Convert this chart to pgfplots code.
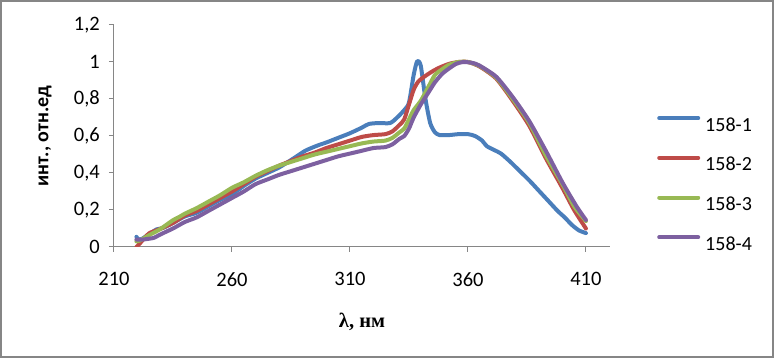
\documentclass[border=0pt]{standalone}
\usepackage{pgfplots}
\pgfplotsset{compat=1.18}
\usepackage{fontspec}
\setmainfont{Carlito}
\newfontfamily\timesfont{Liberation Serif}
\definecolor{s1}{HTML}{4A7EBB}
\definecolor{s2}{HTML}{BE4B48}
\definecolor{s3}{HTML}{98B954}
\definecolor{s4}{HTML}{7D60A0}
\definecolor{axgray}{HTML}{868686}
\begin{document}
\begin{tikzpicture}[x=1pt,y=1pt]
\path[use as bounding box] (0,0) rectangle (774,358);
\draw[axgray, line width=2pt] (1,1) rectangle (773,357);
\begin{axis}[
  at={(114pt,111pt)}, anchor=south west,
  scale only axis, width=496pt, height=222pt,
  xmin=210, xmax=420.2, ymin=0, ymax=1.2,
  axis lines*=left,
  axis line style={axgray, line width=1pt},
  tick style={axgray, line width=1pt},
  tick align=outside, major tick length=5pt,
  xtick={210,260,310,360,410},
  ytick={0,0.2,0.4,0.6,0.8,1,1.2},
  /pgf/number format/.cd, assume math mode=true, use comma, fixed, precision=1,
  /pgfplots/.cd,
  tick label style={font=\fontsize{20.5}{24}\selectfont, text=black},
  yticklabel style={inner sep=0pt, xshift=-9pt},
  xticklabel style={inner sep=0pt, yshift=-20pt},
  every axis y label/.style={at={(axis description cs:-0.139,0.5)}, rotate=90, anchor=center},
  every axis x label/.style={at={(axis description cs:0.5,-0.338)}, anchor=center},
  ylabel={\fontsize{20}{24}\selectfont\bfseries инт., отн.ед},
  xlabel={\fontsize{20.5}{24}\selectfont\timesfont\bfseries λ, нм},
  legend style={at={(axis description cs:1.0948,0.59)}, anchor=north west, draw=none, fill=none, inner sep=0pt,
    font=\fontsize{20}{24}\selectfont, row sep=24.7pt,
    nodes={inner sep=0pt, text height=13pt, text depth=0pt}},
  legend cell align=left,
  legend image code/.code={\draw[#1, line cap=round] (2pt,6.5pt)--(41pt,6.5pt); \path (46pt,0pt);},
  every axis plot/.append style={line width=4pt, line join=round, line cap=round, smooth, tension=0.4},
]
\addplot[s1] coordinates {
(219.5,0.055)(220.5,0.04)(222,0.045)(225,0.07)(228,0.095)(230,0.10)(232,0.11)(235,0.13)
(240,0.165)(245,0.185)(250,0.22)(255,0.255)(260,0.285)(265,0.33)(270,0.37)(275,0.40)
(280,0.43)(285,0.47)(288,0.495)(291,0.52)(294,0.537)(297,0.552)(300,0.565)(305,0.59)
(310,0.615)(315,0.645)(318,0.665)(322,0.67)(327,0.67)(330,0.70)(333,0.74)(335,0.78)
(337,0.93)(338.5,1.005)(340,0.98)(342,0.80)(344,0.67)(346,0.62)(348,0.605)(352,0.605)
(356,0.61)(360,0.61)(363,0.60)(366,0.575)(368,0.545)(371,0.525)(374,0.505)(378,0.46)
(382,0.41)(386,0.36)(390,0.305)(394,0.25)(398,0.195)(401,0.16)(404,0.12)(407,0.09)(410,0.075)
};
\addlegendentry{158-1}
\addplot[s2] coordinates {
(219.5,0.0)(221,0.02)(223,0.05)(225,0.075)(228,0.09)(230,0.10)(235,0.13)(240,0.17)
(245,0.195)(250,0.23)(255,0.265)(260,0.30)(265,0.34)(270,0.38)(275,0.41)(280,0.44)
(285,0.465)(290,0.49)(295,0.51)(300,0.535)(305,0.555)(310,0.575)(315,0.595)(320,0.605)
(325,0.61)(328,0.625)(331,0.66)(333,0.69)(335,0.77)(337,0.85)(339,0.895)(342,0.925)
(345,0.95)(348,0.97)(352,0.99)(356,1.0)(360,1.0)(365,0.975)(372,0.91)(379,0.79)
(386,0.655)(393,0.48)(400,0.32)(405,0.20)(410,0.10)
};
\addlegendentry{158-2}
\addplot[s3] coordinates {
(219.5,0.03)(221,0.035)(223,0.05)(225,0.065)(228,0.085)(230,0.10)(235,0.145)(238,0.165)
(240,0.18)(245,0.21)(250,0.245)(255,0.28)(260,0.32)(265,0.35)(270,0.385)(275,0.415)
(280,0.44)(285,0.46)(290,0.48)(295,0.50)(300,0.515)(305,0.53)(310,0.545)(315,0.56)
(320,0.57)(325,0.575)(328,0.59)(331,0.62)(333,0.64)(335,0.69)(337,0.74)(340,0.79)
(343,0.86)(346,0.93)(349,0.96)(352,0.985)(356,1.0)(360,1.0)(365,0.978)(372,0.915)
(379,0.80)(386,0.67)(393,0.495)(400,0.34)(405,0.22)(410,0.14)
};
\addlegendentry{158-3}
\addplot[s4] coordinates {
(219.5,0.04)(222,0.04)(225,0.045)(227,0.05)(230,0.07)(235,0.10)(240,0.135)(245,0.16)
(250,0.195)(255,0.23)(260,0.265)(265,0.30)(270,0.34)(275,0.365)(280,0.39)(285,0.41)
(290,0.43)(295,0.45)(300,0.47)(305,0.49)(310,0.505)(315,0.52)(320,0.535)(325,0.54)
(328,0.555)(331,0.585)(333,0.60)(335,0.64)(337,0.70)(340,0.77)(343,0.83)(346,0.89)
(349,0.935)(352,0.965)(355,0.99)(358,1.0)(362,0.995)(365,0.98)(372,0.92)(379,0.81)
(386,0.68)(393,0.52)(400,0.35)(406,0.22)(410,0.146)
};
\addlegendentry{158-4}
\end{axis}
\end{tikzpicture}
\end{document}
